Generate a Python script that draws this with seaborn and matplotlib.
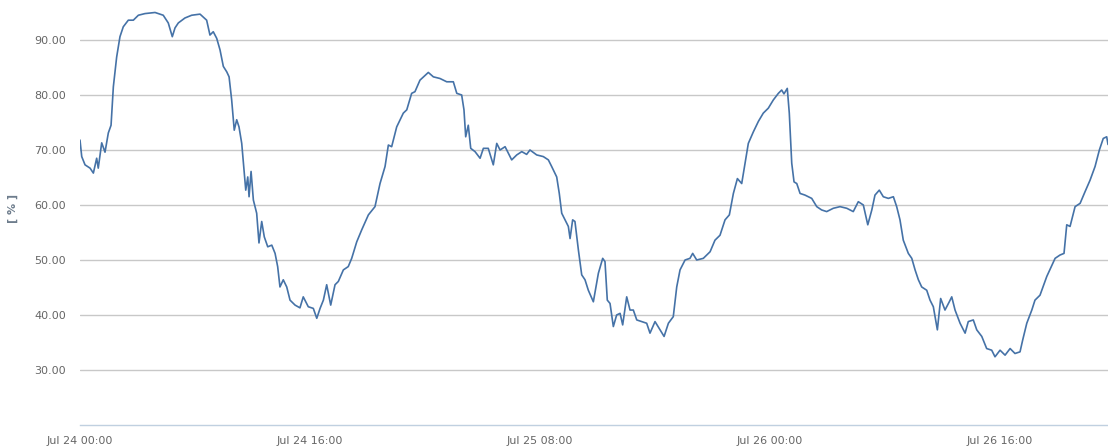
import matplotlib
matplotlib.use("Agg")
import matplotlib.pyplot as plt
import matplotlib.dates as mdates
import matplotlib.ticker as mticker
import pandas as pd
import seaborn as sns

# Relative humidity readings, hours since Jul 24 00:00
hours = [
    0.00, 0.12, 0.35, 0.70, 0.93, 1.16, 1.27, 1.51, 1.74, 1.97, 2.16, 2.32, 2.55, 2.78,
    3.01, 3.36, 3.71, 4.06, 4.52, 5.22, 5.79, 6.14, 6.42, 6.61, 6.84, 7.30, 7.77, 8.35,
    8.81, 9.04, 9.27, 9.51, 9.74, 9.97, 10.21, 10.37, 10.55, 10.73, 10.90, 11.06, 11.25,
    11.43, 11.53, 11.67, 11.76, 11.90, 12.06, 12.29, 12.45, 12.64, 12.82, 13.06, 13.34,
    13.57, 13.75, 13.91, 14.14, 14.38, 14.61, 14.96, 15.30, 15.53, 15.88, 16.23, 16.47,
    16.70, 16.93, 17.16, 17.44, 17.74, 17.97, 18.32, 18.66, 18.90, 19.25, 19.60, 20.06,
    20.52, 20.87, 21.22, 21.45, 21.68, 22.03, 22.49, 22.73, 23.07, 23.30, 23.65, 24.23,
    24.58, 25.04, 25.51, 25.97, 26.21, 26.55, 26.71, 26.83, 27.01, 27.18, 27.48, 27.83,
    28.06, 28.40, 28.75, 28.99, 29.22, 29.57, 30.03, 30.38, 30.73, 31.07, 31.30, 31.77,
    32.23, 32.58, 32.81, 33.16, 33.34, 33.51, 33.74, 33.97, 34.09, 34.27, 34.43, 34.67,
    34.90, 35.13, 35.36, 35.71, 36.06, 36.36, 36.52, 36.68, 36.87, 37.10, 37.33, 37.57,
    37.75, 38.03, 38.26, 38.49, 38.73, 39.07, 39.42, 39.65, 40.00, 40.35, 40.63, 40.93,
    41.27, 41.51, 41.74, 42.09, 42.43, 42.62, 42.90, 43.36, 43.83, 44.17, 44.52, 44.87,
    45.17, 45.45, 45.73, 46.03, 46.26, 46.49, 46.84, 47.19, 47.53, 47.88, 48.23, 48.58,
    48.81, 48.97, 49.20, 49.34, 49.51, 49.67, 49.86, 50.09, 50.43, 50.90, 51.25, 51.59,
    51.94, 52.40, 52.87, 53.34, 53.79, 54.14, 54.49, 54.80, 55.08, 55.30, 55.60, 55.88,
    56.23, 56.58, 56.81, 57.04, 57.27, 57.62, 57.86, 58.09, 58.32, 58.55, 58.90, 59.13,
    59.36, 59.64, 59.87, 60.17, 60.47, 60.64, 60.87, 61.22, 61.57, 61.79, 62.14, 62.38,
    62.73, 63.07, 63.42, 63.65, 64.00, 64.35, 64.70, 65.04, 65.39, 65.58, 65.86, 66.21,
    66.43, 66.78, 67.25, 67.83, 68.17, 68.45, 68.64, 68.87, 69.22, 69.57, 69.91, 70.26,
    70.61, 70.91, 71.18, 71.42, 71.51,
]
humidity = [
    71.8, 68.8, 67.3, 66.7, 65.8, 68.5, 66.7, 71.3, 69.6, 73.1, 74.5, 81.5, 86.9, 90.6,
    92.4, 93.6, 93.6, 94.5, 94.8, 95.0, 94.5, 93.1, 90.6, 92.2, 93.1, 94.0, 94.5, 94.7,
    93.6, 90.9, 91.5, 90.3, 88.2, 85.2, 84.2, 83.3, 79.1, 73.6, 75.5, 74.2, 71.2,
    65.8, 62.7, 65.1, 61.5, 66.1, 60.9, 58.5, 53.1, 57.0, 54.2, 52.4, 52.7,
    51.2, 48.8, 45.1, 46.4, 45.1, 42.7, 41.8, 41.3, 43.3, 41.5, 41.2, 39.4,
    41.2, 42.7, 45.5, 41.8, 45.5, 46.1, 48.2, 48.8, 50.3, 53.3, 55.5, 58.2,
    59.7, 63.9, 67.0, 70.9, 70.6, 74.2, 76.7, 77.3, 80.3, 80.6, 82.7, 84.1,
    83.3, 83.0, 82.4, 82.4, 80.3, 80.0, 77.3, 72.4, 74.5, 70.3, 69.7, 68.5,
    70.3, 70.3, 67.3, 71.2, 70.0, 70.6, 68.2, 69.1, 69.7, 69.2, 70.0, 69.1,
    68.8, 68.2, 67.0, 65.1, 62.1, 58.5, 57.3, 56.1, 53.9, 57.3, 57.0, 51.8,
    47.3, 46.4, 44.5, 42.4, 47.6, 50.3, 49.7, 42.7, 42.1, 37.9, 40.0, 40.3,
    38.2, 43.3, 40.9, 40.9, 39.1, 38.8, 38.5, 36.7, 38.8, 37.3, 36.1, 38.5,
    39.7, 45.1, 48.2, 50.0, 50.3, 51.2, 50.0, 50.3, 51.5, 53.6, 54.5, 57.3,
    58.2, 62.1, 64.8, 63.9, 67.6, 71.2, 73.3, 75.2, 76.7, 77.6, 79.1, 80.3,
    80.9, 80.2, 81.2, 76.7, 67.6, 64.2, 63.9, 62.1, 61.8, 61.2, 59.7, 59.1,
    58.8, 59.4, 59.7, 59.4, 58.8, 60.6, 60.0, 56.4, 59.1, 61.8, 62.7, 61.5,
    61.2, 61.5, 59.7, 57.3, 53.6, 51.2, 50.3, 48.2, 46.4, 45.1, 44.5, 42.7,
    41.5, 37.3, 43.0, 40.9, 42.4, 43.3, 40.9, 38.5, 36.7, 38.8, 39.1, 37.3,
    36.1, 33.9, 33.6, 32.4, 33.6, 32.7, 33.9, 33.0, 33.3, 35.5, 38.5, 40.9,
    42.7, 43.6, 47.0, 50.3, 50.9, 51.2, 56.4, 56.1, 59.7, 60.3, 62.4, 64.5,
    67.0, 70.0, 72.1, 72.4, 71.0,
]

start = pd.Timestamp("2014-07-24 00:00")
y_ticks = [30, 40, 50, 60, 70, 80, 90]
x_labels = ["Jul 24 00:00", "Jul 24 16:00", "Jul 25 08:00", "Jul 26 00:00", "Jul 26 16:00"]
label_step_hours = 16
minor_step_hours = 8
axis_title = "[ % ]"

df = pd.DataFrame({
    "time": start + pd.to_timedelta(hours, unit="h"),
    "humidity": humidity,
})

sns.set_style("white")
plt.rcParams["font.family"] = ["DejaVu Sans"]

fig = plt.figure(figsize=(11.08, 4.48), dpi=100)
ax = fig.add_axes([80 / 1108, 23 / 448, 1028 / 1108, 425 / 448])

sns.lineplot(data=df, x="time", y="humidity", ax=ax,
             color="#4572A7", linewidth=1.2)

ax.set_xlim(start, start + pd.Timedelta(hours=71.51))
ax.set_ylim(20, 97.27)

# horizontal grid
ax.set_yticks(y_ticks)
ax.yaxis.set_major_formatter(mticker.FormatStrFormatter("%.2f"))
ax.grid(axis="y", color="#C8C8C8", linewidth=1.0)
ax.grid(axis="x", visible=False)
ax.set_axisbelow(True)

# time axis: labels every 16 h, tick marks every 8 h
major_times = [start + pd.Timedelta(hours=label_step_hours * i) for i in range(len(x_labels))]
minor_times = [start + pd.Timedelta(hours=minor_step_hours * i) for i in range(9)]
ax.set_xticks(mdates.date2num(major_times))
ax.set_xticklabels(x_labels)
ax.set_xticks(mdates.date2num(minor_times), minor=True)
ax.tick_params(axis="x", which="both", length=5, width=1, color="#C0D0E0",
               labelsize=8, labelcolor="#666666", pad=3, direction="out")
ax.tick_params(axis="y", length=0, labelsize=8, labelcolor="#666666", pad=10)

for side in ["left", "right", "top"]:
    ax.spines[side].set_visible(False)
ax.spines["bottom"].set_color("#C0D0E0")
ax.spines["bottom"].set_linewidth(1.0)

ax.set_xlabel("")
ax.set_ylabel(axis_title, fontsize=8, color="#6D7C8C", fontweight="bold")
# axis title sits 62 px left of the plot area
ax.yaxis.set_label_coords(-62 / 1028, 0.51)

fig.savefig("out.png", dpi=100, facecolor="white")
